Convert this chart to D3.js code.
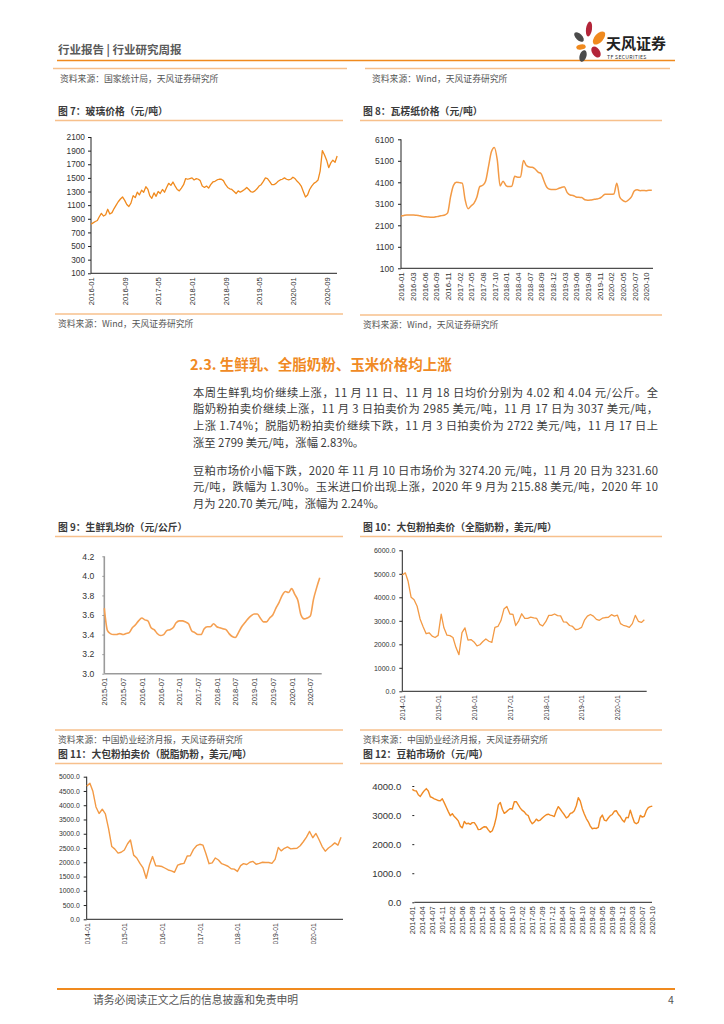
<!DOCTYPE html>
<html><head><meta charset="utf-8">
<script src="https://cdn.jsdelivr.net/npm/d3@7"></script>
<style>
body{margin:0;background:#fff;}
svg{display:block;font-family:"Noto Sans CJK SC","Noto Sans",sans-serif;}
</style></head><body>
<svg id="page" width="724" height="1024"></svg>
<script>
// ---------- DATA ----------
// 图7 玻璃价格 (half-monthly, 2016-01 .. 2020-11)
const glassStart = [2016, 0];
const glassPrice = [
 820,840,860,875,930,980,940,960,1040,970,990,1050,1100,1150,1190,1220,
 1170,1110,1080,1130,1240,1210,1290,1250,1320,1290,1370,1330,1240,1200,1280,1230,
 1300,1270,1330,1290,1360,1420,1390,1440,1380,1330,1310,1350,1400,1490,1480,1490,
 1500,1470,1490,1480,1460,1380,1360,1380,1350,1400,1440,1450,1470,1480,1480,1460,
 1400,1360,1340,1330,1300,1270,1310,1290,1310,1330,1360,1330,1300,1290,1310,1340,
 1380,1400,1450,1500,1490,1450,1400,1400,1420,1450,1470,1480,1500,1480,1470,1480,
 1510,1490,1450,1420,1380,1300,1220,1250,1330,1380,1420,1440,1470,1600,1900,1840,1760,1650,1720,1760,1730,1820];
const glassTicks = ["2016-01","2016-09","2017-05","2018-01","2018-09","2019-05","2020-01","2020-09"];
const glassYTicks = [100,300,500,700,900,1100,1300,1500,1700,1900,2100];

// 图8 瓦楞纸价格 (category axis)
const boardLabels = ["2016-01","2016-03","2016-06","2016-09","2016-11","2017-02","2017-05","2017-08","2017-10","2018-01","2018-04","2018-07","2018-09","2018-12","2019-03","2019-06","2019-08","2019-11","2020-02","2020-05","2020-07","2020-10"];
const boardPrice = [
 2530,2560,2580,2580,2575,2570,2560,2525,2500,2490,2475,2470,2495,2520,2550,2580,
 2680,3430,3960,4100,4085,4060,3280,2870,3000,3120,3400,3900,3960,4150,4830,5520,
 5720,5150,3930,4150,3950,3900,3920,4380,4340,4350,5110,4880,4810,4800,4720,4570,
 4510,4170,3870,3780,3770,3770,3810,3860,3890,3620,3510,3490,3420,3400,3390,3290,
 3270,3280,3300,3320,3350,3440,3540,3540,3540,3560,4060,3420,3260,3200,3280,3420,
 3700,3750,3710,3720,3710,3730,3730];
const boardYTicks = [100,1100,2100,3100,4100,5100,6100];

// 图9 生鲜乳均价 (monthly 2015-01 .. 2020-10)
const milkStart = [2015, 0];
const milkPrice = [
 3.67,3.44,3.41,3.40,3.40,3.41,3.40,3.41,3.42,3.47,3.50,3.54,
 3.57,3.55,3.54,3.47,3.45,3.41,3.39,3.40,3.44,3.45,3.47,3.52,
 3.54,3.54,3.53,3.51,3.44,3.42,3.40,3.40,3.46,3.48,3.48,3.51,
 3.48,3.47,3.46,3.45,3.41,3.38,3.37,3.42,3.48,3.52,3.56,3.59,
 3.61,3.61,3.57,3.53,3.53,3.57,3.60,3.67,3.73,3.80,3.84,3.83,
 3.87,3.81,3.75,3.60,3.56,3.57,3.59,3.76,3.88,3.98];
const milkTicks = ["2015-01","2015-07","2016-01","2016-07","2017-01","2017-07","2018-01","2018-07","2019-01","2019-07","2020-01","2020-07"];
const milkYTicks = [3.0,3.2,3.4,3.6,3.8,4.0,4.2];

// 图10 全脂奶粉 (monthly 2014-01 .. 2020-10)
const wmpStart = [2014, 0];
const wmpPrice = [
 4950,5040,4680,4000,3900,3620,3080,2750,2450,2490,2350,2290,
 2380,3280,2700,2390,2370,2290,1870,1560,2500,2700,2180,2200,
 2100,1930,1980,2120,2230,2130,2080,2720,2760,3000,3500,3610,
 3290,3270,2800,3000,3300,3100,3100,3160,3120,3100,2850,2780,
 2960,3230,3230,3290,3220,3210,2950,2940,2800,2760,2620,2650,
 2720,3040,3200,3270,3200,3060,3020,3110,3140,3150,3260,3200,
 3240,2880,2810,2770,2720,2880,3230,2980,2930,3040];
const dairyTicks = ["2014-01","2015-01","2016-01","2017-01","2018-01","2019-01","2020-01"];
const wmpYTicks = [0,1000,2000,3000,4000,5000,6000];

// 图11 脱脂奶粉 (monthly 2014-01 .. 2020-10)
const smpPrice = [
 4670,4770,4500,3940,3710,3860,3700,3180,2550,2460,2320,2350,
 2430,2650,2780,2250,2150,1960,1800,1440,1900,2200,1880,1870,
 1850,1790,1730,1700,1650,1900,1940,1960,2220,2230,2450,2580,
 2630,2600,2310,1950,1980,2150,2080,1950,1910,1860,1770,1760,
 1680,1880,1950,1920,2000,2030,1930,1960,2000,1990,1990,1960,
 2100,2520,2400,2490,2540,2470,2480,2490,2580,2720,2880,3080,
 2860,3010,2800,2550,2390,2500,2580,2680,2600,2880];
const smpYTicks = [0,500,1000,1500,2000,2500,3000,3500,4000,4500,5000];

// 图12 豆粕市场价 (category axis)
const soyLabels = ["2014-01","2014-04","2014-07","2014-11","2015-02","2015-06","2015-09","2015-12","2016-04","2016-07","2016-10","2017-02","2017-05","2017-09","2017-12","2018-04","2018-07","2018-10","2019-02","2019-05","2019-09","2019-12","2020-03","2020-07","2020-10"];
const soyPrice = [
 3885,3840,3830,3700,3640,3750,3840,3910,3830,3630,3600,3560,3530,3500,3490,3560,
 3420,3270,3120,2980,3050,2950,2880,2800,2620,2560,2780,2700,2720,2680,2740,2740,
 2640,2500,2510,2560,2600,2590,2490,2410,2460,2650,2930,3350,3430,3200,3060,3110,
 3175,3220,3210,3460,3460,3350,3240,3160,3110,3020,2980,2800,2700,2760,2860,2800,
 2830,2900,2960,3010,3030,3000,2980,2950,3150,3290,3200,3100,3010,2900,2945,3060,
 3080,3150,3320,3600,3480,3220,3040,2880,2770,2620,2530,2550,2540,2580,2900,3000,
 2830,2800,2900,2980,3020,3130,3150,3030,2950,2830,2760,2920,2910,3170,2950,2750,
 2700,2750,2990,2930,2960,3150,3255,3290,3310];
const soyYTicks = [0,1000,2000,3000,4000];

// ---------- TEXT ----------
const para1 = [
 "本周生鲜乳均价继续上涨，11 月 11 日、11 月 18 日均价分别为 4.02 和 4.04 元/公斤。全",
 "脂奶粉拍卖价继续上涨，11 月 3 日拍卖价为 2985 美元/吨，11 月 17 日为 3037 美元/吨，",
 "上涨 1.74%；脱脂奶粉拍卖价继续下跌，11 月 3 日拍卖价为 2722 美元/吨，11 月 17 日上",
 "涨至 2799 美元/吨，涨幅 2.83%。"];
const para2 = [
 "豆粕市场价小幅下跌，2020 年 11 月 10 日市场价为 3274.20 元/吨，11 月 20 日为 3231.60",
 "元/吨，跌幅为 1.30%。玉米进口价出现上涨，2020 年 9 月为 215.88 美元/吨，2020 年 10",
 "月为 220.70 美元/吨，涨幅为 2.24%。"];

// ---------- DRAW ----------
const svg = d3.select("#page");
const ORANGE = "#F08A1E", PEACH = "#F7C08C", GREY = "#555";
const parseM = d3.timeParse("%Y-%m");

// header
svg.append("text").attr("x",58).attr("y",54).attr("font-size",11.5).attr("font-weight","bold")
  .attr("fill","#5a5a5a").text("行业报告 | 行业研究周报");
svg.append("line").attr("x1",57).attr("x2",675).attr("y1",60.5).attr("y2",60.5)
  .attr("stroke",ORANGE).attr("stroke-width",1.6);
// logo
const logo = svg.append("g");
[[589,29,3,7.5,8,"#B32539"],[579,37,3.2,6,-45,"#4B4B4B"],[599,38,4.3,8,42,"#F08A1E"],
 [581,47,4.8,2.6,-10,"#F08A1E"],[596,52,3.8,6.2,-35,"#B32539"],[583,56,3.4,6,18,"#4B4B4B"]]
 .forEach(p=>logo.append("ellipse").attr("cx",p[0]).attr("cy",p[1]).attr("rx",p[2]).attr("ry",p[3])
   .attr("transform",`rotate(${p[4]},${p[0]},${p[1]})`).attr("fill",p[5]));
svg.append("text").attr("x",606).attr("y",49).attr("font-size",15).attr("font-weight","bold")
  .attr("fill","#222").text("天风证券");
svg.append("text").attr("x",607).attr("y",58.5).attr("font-size",5.2).attr("fill","#333")
  .attr("letter-spacing",0.3).text("TF SECURITIES");

// top source bars
svg.append("line").attr("x1",53).attr("x2",347).attr("y1",68.5).attr("y2",68.5).attr("stroke",PEACH).attr("stroke-width",1.5);
svg.append("line").attr("x1",365).attr("x2",670).attr("y1",68.5).attr("y2",68.5).attr("stroke",PEACH).attr("stroke-width",1.5);
function source(x,y,t){svg.append("text").attr("x",x).attr("y",y).attr("font-size",8.8).attr("fill",GREY).text(t);}
source(60,82,"资料来源：国家统计局，天风证券研究所");
source(372,82,"资料来源：Wind，天风证券研究所");

function frame(x,titleY,w,title,bottomY,src){
  svg.append("text").attr("x",x+3).attr("y",titleY+4).attr("font-size",9.8).attr("font-weight","bold")
    .attr("fill","#3a3a3a").text(title);
  svg.append("line").attr("x1",x).attr("x2",x+w).attr("y1",titleY+9.5).attr("y2",titleY+9.5)
    .attr("stroke",PEACH).attr("stroke-width",1.3);
  if(bottomY){
    svg.append("line").attr("x1",x).attr("x2",x+w).attr("y1",bottomY).attr("y2",bottomY)
      .attr("stroke",PEACH).attr("stroke-width",1.3);
  }
  if(src) source(x+3,(bottomY||0)+13,src);
}

function drawChart(o){
  const g = svg.append("g");
  if(o.clip){
    const id="clip"+Math.round(o.x0);
    svg.append("clipPath").attr("id",id).append("rect").attr("x",o.x0-60).attr("y",o.yTop-20)
      .attr("width",400).attr("height",o.clip-(o.yTop-20));
    g.attr("clip-path",`url(#${id})`);
  }
  const y = d3.scaleLinear().domain([o.yTicks[0],o.yTicks[o.yTicks.length-1]]).range([o.yBot,o.yTop]);
  const x = o.x;
  const ya = d3.axisLeft(y).tickValues(o.yTicks).tickFormat(o.yFmt).tickSize(o.tickLen||3).tickPadding(o.pad||3);
  const yg = g.append("g").attr("transform",`translate(${o.x0},0)`).call(ya);
  yg.selectAll("text").attr("font-size",o.yFont).attr("fill","#333").attr("font-family","'Liberation Sans',Arial,sans-serif");
  yg.selectAll("line").attr("stroke",o.axisColor||"#222");
  if(o.noYLine) yg.select(".domain").remove();
  else yg.select(".domain").attr("stroke",o.axisColor||"#222").attr("stroke-width",o.axisW||1).attr("d",`M0,${o.yTop}V${o.yBot}`);
  // x axis
  g.append("line").attr("x1",o.x0).attr("x2",o.xEnd).attr("y1",o.yBot).attr("y2",o.yBot)
    .attr("stroke",o.axisColor||"#222").attr("stroke-width",o.axisW||1);
  const xa = d3.axisBottom(x).tickValues(o.xTickVals).tickFormat(o.xFmt).tickSize(0);
  const xg = g.append("g").attr("transform",`translate(0,${o.yBot})`).call(xa);
  xg.select(".domain").remove();
  xg.selectAll("text").attr("transform","rotate(-90)").attr("text-anchor","end")
    .attr("x",-4).attr("y",0).attr("dy","0.35em").attr("font-size",o.xFont).attr("fill","#333")
    .attr("font-family","'Liberation Sans',Arial,sans-serif");
  // line
  const line = d3.line().x((d,i)=>x(o.xv(i))).y(d=>y(d)).curve(o.curve||d3.curveLinear);
  g.append("path").datum(o.values).attr("d",line).attr("fill","none")
    .attr("stroke",o.color).attr("stroke-width",o.lw||1.4).attr("stroke-linejoin","round");
}

// ---- 图7
frame(55,111,288,"图 7：玻璃价格（元/吨）",314,"资料来源：Wind，天风证券研究所");
{
  const d0 = new Date(glassStart[0],glassStart[1],1);
  const dEnd = new Date(2020,10,15);
  const x = d3.scaleTime().domain([d0,dEnd]).range([91,337]);
  drawChart({x, x0:91, xEnd:337, yTop:137, yBot:273.3, yTicks:glassYTicks, yFmt:d3.format("d"), yFont:8.3,
    xTickVals:glassTicks.map(parseM), xFmt:d3.timeFormat("%Y-%m"), xFont:7.6,
    values:glassPrice, xv:i=>new Date(glassStart[0],glassStart[1]+Math.floor(i/2),i%2?16:1),
    color:"#F08A1E", lw:1.3});
}
// ---- 图8
frame(360,111,302,"图 8：瓦楞纸价格（元/吨）",315,"资料来源：Wind，天风证券研究所");
{
  const n = boardPrice.length, every = 4;
  const x = d3.scaleLinear().domain([0,n-1]).range([401,651.8]);
  drawChart({x, x0:401, xEnd:653, yTop:139.3, yBot:268.3, yTicks:boardYTicks, yFmt:d3.format("d"), yFont:8.5, pad:4,
    xTickVals:boardLabels.map((d,i)=>i*every), xFmt:(d,i)=>boardLabels[i], xFont:7.8,
    values:boardPrice, xv:i=>i, color:"#F39A45", lw:1.5, curve:d3.curveMonotoneX});
}

// ---- section text
svg.append("text").attr("x",190).attr("y",369.5).attr("font-size",14.5).attr("font-weight","bold")
  .attr("fill","#F08A24").text("2.3. 生鲜乳、全脂奶粉、玉米价格均上涨");
function para(lines,y0){
  lines.forEach((t,i)=>{
    const tx = svg.append("text").attr("x",193).attr("y",y0+i*16.7).attr("font-size",11.3)
      .attr("fill","#3b3b3b").text(t);
    if(i<lines.length-1) tx.attr("textLength",465).attr("lengthAdjust","spacing");
  });
}
para(para1,396.7);
para(para2,474.7);

// ---- 图9
frame(55,527,288,"图 9：生鲜乳均价（元/公斤）",730,"资料来源：中国奶业经济月报，天风证券研究所");
{
  const x = d3.scaleTime().domain([new Date(2015,0,1),new Date(2020,9,20)]).range([104.3,321.7]);
  drawChart({x, x0:104.3, xEnd:321.7, yTop:556.3, yBot:673.7, yTicks:milkYTicks, yFmt:d3.format(".1f"), yFont:8.6, pad:8,
    axisColor:"#9a9a9a", axisW:1.6, tickLen:2,
    xTickVals:milkTicks.map(parseM), xFmt:d3.timeFormat("%Y-%m"), xFont:7.6,
    values:milkPrice, xv:i=>new Date(milkStart[0],milkStart[1]+i,1), color:"#F5A052", lw:1.6, curve:d3.curveMonotoneX});
}
// ---- 图10
frame(360,527,302,"图 10：大包粉拍卖价（全脂奶粉，美元/吨）",730,"资料来源：中国奶业经济月报，天风证券研究所");
{
  const x = d3.scaleTime().domain([new Date(2014,0,1),new Date(2020,9,25)]).range([402.3,646.7]);
  drawChart({x, x0:402.3, xEnd:646.7, yTop:550.3, yBot:691.3, yTicks:wmpYTicks, yFmt:d3.format(".1f"), yFont:7, pad:4,
    xTickVals:dairyTicks.map(parseM), xFmt:d3.timeFormat("%Y-%m"), xFont:6.8,
    values:wmpPrice, xv:i=>new Date(wmpStart[0],wmpStart[1]+i,1), color:"#F39A45", lw:1.3});
}
// ---- 图11
frame(55,754,288,"图 11：大包粉拍卖价（脱脂奶粉，美元/吨）",null,null);
{
  const x = d3.scaleTime().domain([new Date(2014,0,1),new Date(2020,9,20)]).range([86.7,343]);
  drawChart({x, x0:86.7, xEnd:343, yTop:776.7, yBot:919.3, yTicks:smpYTicks, yFmt:d3.format(".1f"), yFont:6.8, pad:4,
    xTickVals:dairyTicks.map(parseM), xFmt:d3.timeFormat("%Y-%m"), xFont:6.8, clip:944,
    values:smpPrice, xv:i=>new Date(wmpStart[0],wmpStart[1]+i,1), color:"#F39A45", lw:1.4});
}
// ---- 图12
frame(360,754,302,"图 12：豆粕市场价（元/吨）",null,null);
{
  const n = soyPrice.length, every = 5;
  const x = d3.scaleLinear().domain([0,n-1]).range([412.3,652.3]);
  drawChart({x, x0:414.3, xEnd:652, yTop:786, yBot:902.3, yTicks:soyYTicks, yFmt:d3.format(".1f"), yFont:9.5,
    tickLen:2, pad:11, noYLine:true,
    xTickVals:soyLabels.map((d,i)=>i*every), xFmt:(d,i)=>soyLabels[i], xFont:7.6, clip:940,
    values:soyPrice, xv:i=>i, color:"#F08A24", lw:1.4});
}

// footer
svg.append("line").attr("x1",57).attr("x2",675).attr("y1",989).attr("y2",989).attr("stroke",ORANGE).attr("stroke-width",1.8);
svg.append("text").attr("x",93).attr("y",1004).attr("font-size",10.8).attr("fill","#555").text("请务必阅读正文之后的信息披露和免责申明");
svg.append("text").attr("x",668).attr("y",1004).attr("font-size",10.5).attr("fill","#555").text("4");
</script>
</body></html>
